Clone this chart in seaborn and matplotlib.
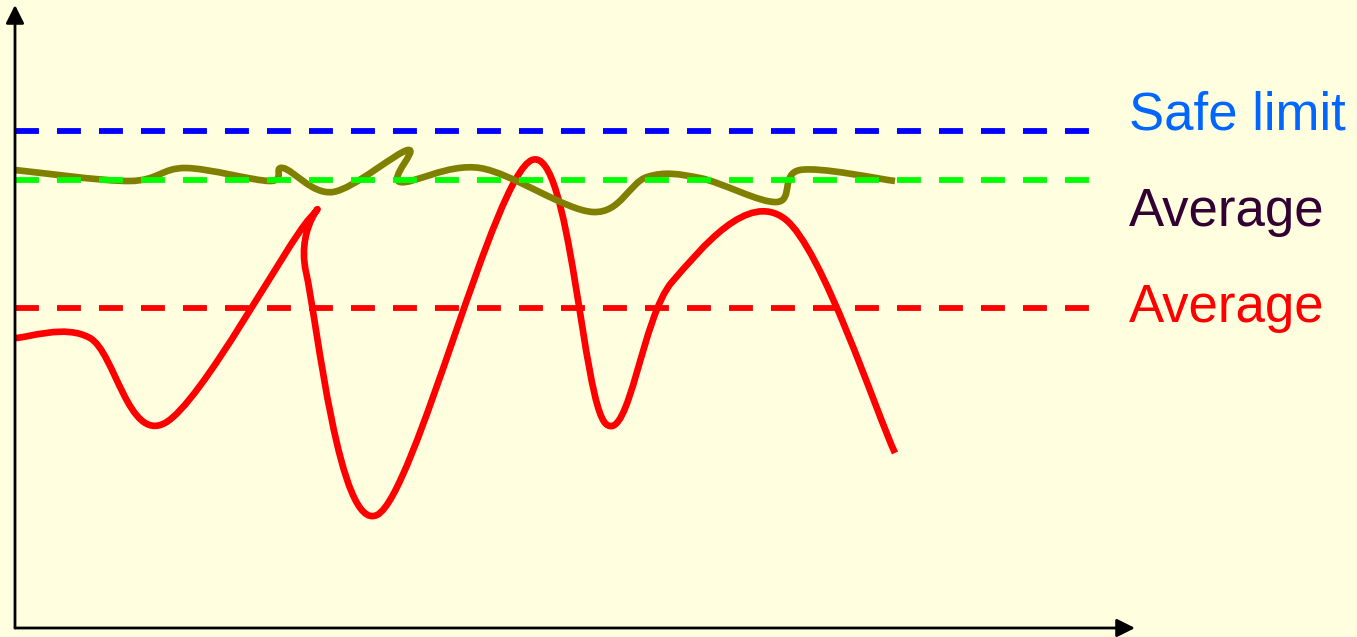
import numpy as np
import pandas as pd
import matplotlib
matplotlib.use('Agg')
import matplotlib.pyplot as plt
from matplotlib.path import Path
from matplotlib.patches import PathPatch, FancyArrowPatch
import seaborn as sns

# --- data (x: time units, y: level units) ---
red_x = [0, 7.5, 15.0, 29.5, 29.1, 36.2, 51.7, 59.1, 65.7, 77.0, 88.0]
red_y = [29.0, 29.0, 20.5, 41.0, 35.6, 11.3, 46.8, 20.4, 34.6, 40.9, 17.5]

olive_x = [0, 11.5, 17.0, 25.5, 26.8, 31.8, 39.3, 38.5, 46.5, 57.8, 63.2, 68.5, 76.2, 78.5, 88.0]
olive_y = [45.8, 44.7, 46.0, 44.7, 46.0, 43.6, 47.8, 44.6, 46.0, 41.6, 45.1, 45.0, 42.6, 45.8, 44.7]

ref_names = ["Safe limit", "Average", "Average"]
ref_levels = [49.7, 44.8, 32.0]
ref_line_colors = ["#0000FF", "#00FF00", "#FF0000"]
ref_text_colors = ["#0066FF", "#330033", "#FF0000"]
ref_text_y = [49.8, 40.2, 30.6]
ref_span = [0, 107.5]

BG = "#FFFFE0"

sns.set_theme(style="white", rc={"figure.facecolor": BG, "axes.facecolor": BG})
plt.rcParams['font.family'] = ['Liberation Sans', 'DejaVu Sans']


def smooth_path(xs, ys):
    """Catmull-Rom through the points, rendered as cubic Bezier segments."""
    p = np.column_stack([xs, ys]).astype(float)
    ext = np.vstack([p[0], p, p[-1]])
    verts = [p[0]]
    codes = [Path.MOVETO]
    for i in range(1, len(ext) - 2):
        p0, p1, p2, p3 = ext[i - 1], ext[i], ext[i + 1], ext[i + 2]
        verts += [p1 + (p2 - p0) / 6, p2 - (p3 - p1) / 6, p2]
        codes += [Path.CURVE4] * 3
    return Path(verts, codes)


fig = plt.figure(figsize=(13.57, 6.37), dpi=100)
ax = fig.add_axes([0, 0, 1, 1])
ax.set_xlim(-1.5, 134.2)
ax.set_ylim(-0.9, 62.8)

# curves
ax.add_patch(PathPatch(smooth_path(red_x, red_y), fill=False, edgecolor="#FF0000",
                       lw=4.8, capstyle="butt", joinstyle="round", zorder=2))
ax.add_patch(PathPatch(smooth_path(olive_x, olive_y), fill=False, edgecolor="#808000",
                       lw=4.8, capstyle="butt", joinstyle="round", zorder=2.5))

# dashed reference lines + labels
for name, lvl, lc, tc, ty in zip(ref_names, ref_levels, ref_line_colors, ref_text_colors, ref_text_y):
    df = pd.DataFrame({"x": ref_span, "y": [lvl, lvl]})
    sns.lineplot(data=df, x="x", y="y", ax=ax, color=lc, lw=4.2,
                 linestyle=(0, (4.1, 3.1)), zorder=3)
    ax.text(111.4, ty, name, color=tc, fontsize=38, ha="left", va="baseline")
ax.axis("off")

# axes with arrow heads
for end in [(112.0, 0), (0, 62.3)]:
    ax.add_patch(FancyArrowPatch((0, 0), end, arrowstyle="-|>,head_length=1.1,head_width=0.55",
                                 mutation_scale=10, color="black", lw=2.0,
                                 shrinkA=0, shrinkB=0, zorder=4))

fig.savefig("out.png", dpi=100, facecolor=BG)
